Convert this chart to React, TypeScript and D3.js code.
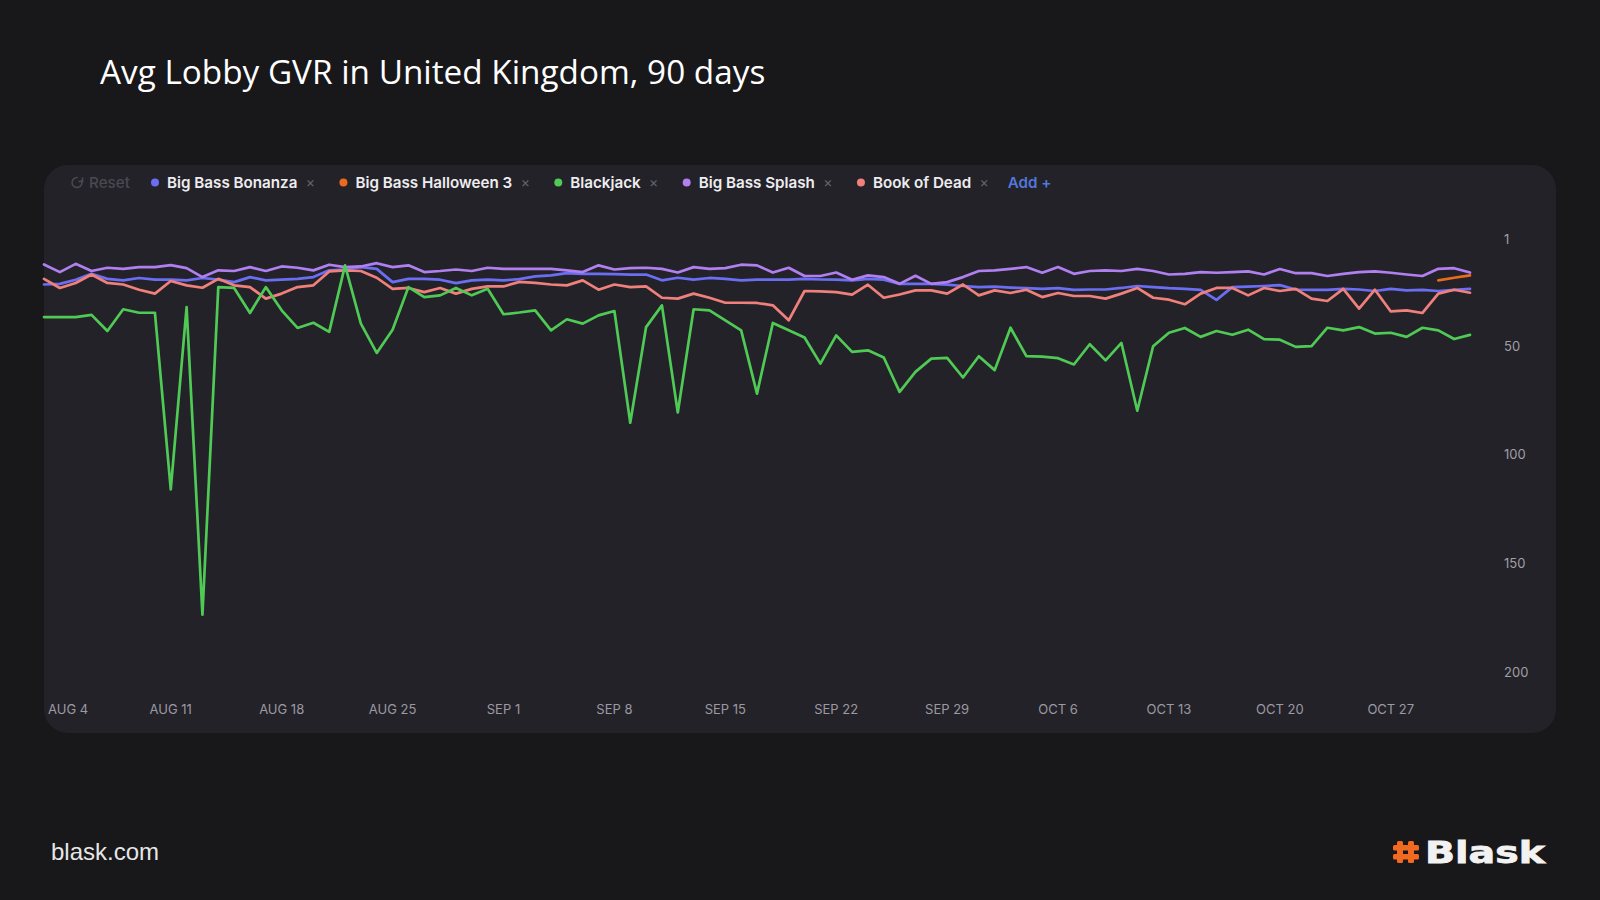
//@ts-nocheck
import React, { useRef, useEffect } from 'react'
import * as d3 from 'd3'

// 91 daily points, Aug 3 .. Nov 1 2024
const firstDay = new Date(2024, 7, 3)
const lastDay = new Date(2024, 10, 1)
const days = d3.timeDay.range(firstDay, d3.timeDay.offset(lastDay, 1))

const bigBassBonanza = [
  21.7, 21.4, 19.5, 16.8, 19.1, 19.8, 18.7, 19.5, 19.5, 19.8,
  18.7, 19.5, 20.6, 18.3, 19.8, 19.5, 19.1, 18.3, 15.2, 14.9,
  13.7, 14.5, 20.6, 19.1, 19.1, 19.5, 21.1, 19.8, 19.5, 19.8,
  19.2, 18.0, 17.5, 16.5, 16.8, 16.8, 16.9, 17.2, 17.1, 19.8,
  18.6, 19.5, 18.7, 19.1, 19.8, 19.5, 19.4, 19.5, 19.1, 19.4,
  19.5, 19.8, 19.1, 19.5, 21.4, 21.4, 21.4, 21.8, 22.4, 22.9,
  22.7, 23.1, 23.4, 23.7, 23.4, 24.2, 24.0, 24.0, 23.3, 22.4,
  22.9, 23.4, 23.7, 24.2, 28.8, 22.9, 22.7, 22.4, 22.0, 24.0,
  24.2, 24.2, 23.7, 24.0, 24.7, 23.7, 24.4, 24.2, 24.7, 24.2, 23.7
]

// only tracked for the last three days
const halloweenDays = [new Date(2024, 9, 30), new Date(2024, 9, 31), new Date(2024, 10, 1)]
const bigBassHalloween3 = [19.8, 18.6, 17.5]

const blackjack = [
  36.7, 36.7, 36.7, 35.7, 43.1, 33.1, 34.7, 34.7, 116, 32.1,
  173.6, 22.9, 23.3, 34.8, 22.9, 33.6, 41.7, 39.3, 43.5, 12.9,
  39.7, 53.2, 42.5, 22.9, 27.5, 26.7, 23.3, 26.7, 23.7, 35.4,
  34.6, 33.6, 42.8, 37.7, 39.7, 35.9, 33.9, 85.3, 41.3, 31.3,
  80.6, 33.1, 33.6, 38.2, 42.8, 71.9, 39.4, 42.8, 46.1, 58.1,
  45.1, 52.7, 52.0, 55.3, 71.1, 61.9, 55.8, 55.5, 64.5, 54.7,
  61.1, 41.6, 54.7, 54.9, 55.6, 58.5, 49.2, 56.6, 48.6, 79.8,
  50.1, 43.9, 41.7, 45.8, 43.1, 44.8, 42.5, 46.8, 47.1, 50.4,
  50.1, 41.6, 42.8, 41.3, 44.3, 43.9, 45.8, 41.6, 42.8, 46.8, 44.9
]

const bigBassSplash = [
  12.5, 16.0, 12.2, 15.5, 14.0, 14.5, 13.7, 13.7, 12.8, 14.2,
  18.3, 15.2, 15.5, 13.7, 15.5, 13.4, 14.0, 15.2, 12.6, 13.7,
  13.4, 11.9, 13.7, 12.9, 16.0, 15.5, 14.8, 15.5, 14.0, 14.5,
  14.5, 14.5, 14.5, 15.2, 16.0, 12.9, 14.8, 14.2, 14.0, 14.5,
  16.2, 13.7, 14.5, 14.2, 12.6, 12.9, 16.2, 14.0, 17.8, 17.8,
  16.2, 19.5, 17.5, 18.3, 21.4, 17.7, 21.4, 20.6, 18.3, 15.5,
  15.2, 14.5, 13.7, 16.3, 13.7, 16.8, 15.5, 15.2, 15.5, 14.5,
  15.5, 17.1, 16.8, 16.0, 16.3, 16.0, 15.7, 17.1, 14.6, 16.5,
  16.5, 17.8, 16.8, 16.0, 15.7, 16.3, 17.1, 17.8, 14.5, 14.2, 16.2
]

const bookOfDead = [
  19.1, 23.3, 21.0, 17.1, 21.0, 21.7, 24.1, 25.9, 20.1, 22.1,
  23.2, 19.1, 22.1, 22.9, 28.2, 25.9, 22.9, 22.1, 15.7, 15.2,
  15.5, 18.6, 23.7, 23.3, 25.2, 23.3, 25.9, 23.7, 22.6, 22.6,
  20.5, 21.0, 21.7, 22.1, 19.8, 24.1, 21.7, 22.9, 22.6, 27.8,
  28.2, 25.9, 27.8, 30.1, 30.1, 30.2, 31.3, 38.2, 24.7, 24.9,
  25.2, 26.4, 21.8, 27.8, 26.3, 24.4, 24.4, 25.9, 21.7, 26.7,
  24.4, 25.6, 24.1, 27.5, 25.6, 27.0, 27.0, 28.2, 25.9, 23.3,
  27.8, 28.7, 30.8, 25.9, 23.3, 23.3, 26.7, 23.3, 24.7, 23.7,
  28.2, 29.3, 23.7, 32.8, 24.1, 34.1, 33.6, 34.8, 25.9, 24.1, 25.5
]

const seriesNames = ['Big Bass Bonanza', 'Big Bass Halloween 3', 'Blackjack', 'Big Bass Splash', 'Book of Dead']
const seriesColors = ['#6b6ef2', '#ec6a1f', '#4fca55', '#b07ff0', '#f0807b']
const rankTicks = [1, 50, 100, 150, 200]

const W = 1600
const H = 900

const App = () => {
  const node = useRef(null)

  useEffect(() => {
    document.body.style.margin = '0'
    document.body.style.background = '#18171a'

    const svg = d3.select(node.current)
    svg.selectAll('*').remove()
    svg.attr('width', W).attr('height', H)

    svg.append('rect').attr('width', W).attr('height', H).attr('fill', '#18171a')

    svg
      .append('text')
      .attr('x', 100)
      .attr('y', 84)
      .attr('fill', '#ffffff')
      .attr('font-family', '"Open Sans", sans-serif')
      .attr('font-size', 33.3)
      .text('Avg Lobby GVR in United Kingdom, 90 days')

    // card
    svg
      .append('rect')
      .attr('x', 44)
      .attr('y', 165)
      .attr('width', 1512)
      .attr('height', 568)
      .attr('rx', 24)
      .attr('fill', '#242229')

    const x = d3.scaleTime().domain([firstDay, lastDay]).range([44, 1470])
    const y = d3.scaleLinear().domain([1, 200]).range([239.5, 672])

    // x axis labels (no domain line, no tick marks)
    const fmt = d3.timeFormat('%b %-d')
    const xg = svg
      .append('g')
      .attr('font-family', 'Inter, sans-serif')
      .attr('font-size', 13)
      .attr('fill', '#9b99a1')
      .attr('text-anchor', 'middle')
    xg.selectAll('text')
      .data(d3.timeWeek.range(firstDay, lastDay))
      .join('text')
      .attr('y', 714)
      .text((d) => fmt(d).toUpperCase())
      .attr('x', function (d) {
        const w = this.getComputedTextLength()
        return Math.max(x(d), 48 + w / 2)
      })

    // y axis labels on the right
    svg
      .append('g')
      .attr('font-family', 'Inter, sans-serif')
      .attr('font-size', 13)
      .attr('fill', '#a09ea6')
      .selectAll('text')
      .data(rankTicks)
      .join('text')
      .attr('x', 1504)
      .attr('y', (d) => y(d))
      .attr('dy', '0.35em')
      .text((d) => d)

    const line = d3
      .line()
      .defined((d) => d.value != null)
      .x((d) => x(d.date))
      .y((d) => y(d.value))

    const toPoints = (values, dates = days) => values.map((v, i) => ({ date: dates[i], value: v }))

    const drawOrder = [
      { data: toPoints(bigBassBonanza), color: seriesColors[0] },
      { data: toPoints(bigBassSplash), color: seriesColors[3] },
      { data: toPoints(bookOfDead), color: seriesColors[4] },
      { data: toPoints(blackjack), color: seriesColors[2] },
      { data: toPoints(bigBassHalloween3, halloweenDays), color: seriesColors[1] }
    ]

    svg
      .append('g')
      .selectAll('path')
      .data(drawOrder)
      .join('path')
      .attr('d', (d) => line(d.data))
      .attr('fill', 'none')
      .attr('stroke', (d) => d.color)
      .attr('stroke-width', 2.7)
      .attr('stroke-linejoin', 'round')
      .attr('stroke-linecap', 'round')

    // legend row
    const lg = svg
      .append('g')
      .attr('font-family', 'Inter, sans-serif')
      .attr('font-size', 15.2)
      .attr('font-weight', 600)
    const ly = 182.5

    const resetArc = d3.path()
    resetArc.arc(77, ly, 5, -Math.PI * 0.15, Math.PI * 1.55)
    lg.append('path')
      .attr('d', resetArc.toString())
      .attr('fill', 'none')
      .attr('stroke', '#4a4852')
      .attr('stroke-width', 1.6)
    lg.append('path')
      .attr('d', `M${77 + 5.5},${ly - 5} l0,4 l-4,0`)
      .attr('fill', 'none')
      .attr('stroke', '#4a4852')
      .attr('stroke-width', 1.6)
    lg.append('text')
      .attr('x', 89)
      .attr('y', ly + 5.5)
      .attr('fill', '#4a4852')
      .attr('font-weight', 500)
      .text('Reset')

    let cx = 155
    seriesNames.forEach((name, i) => {
      lg.append('circle').attr('cx', cx).attr('cy', ly).attr('r', 4).attr('fill', seriesColors[i])
      const t = lg
        .append('text')
        .attr('x', cx + 12)
        .attr('y', ly + 5.5)
        .attr('fill', '#ededf0')
        .text(name)
      const w = t.node().getComputedTextLength()
      lg.append('text')
        .attr('x', cx + 12 + w + 13)
        .attr('y', ly + 4.5)
        .attr('text-anchor', 'middle')
        .attr('fill', '#66646c')
        .attr('font-size', 14)
        .attr('font-weight', 400)
        .text('×')
      cx = cx + 12 + w + 13 + 33
    })
    lg.append('text')
      .attr('x', cx - 33 + 23.5)
      .attr('y', ly + 5.5)
      .attr('fill', '#5277dc')
      .text('Add +')

    // footer
    svg
      .append('text')
      .attr('x', 51)
      .attr('y', 860)
      .attr('fill', '#e6e6e6')
      .attr('font-family', '"Liberation Sans", Arial, sans-serif')
      .attr('font-size', 24)
      .text('blask.com')

    // hash mark of the logo
    const hash = svg.append('g').attr('fill', '#f26a21')
    hash.append('rect').attr('x', 1397).attr('y', 841).attr('width', 6).attr('height', 22).attr('rx', 1.5)
    hash.append('rect').attr('x', 1408).attr('y', 841).attr('width', 6).attr('height', 22).attr('rx', 1.5)
    hash.append('rect').attr('x', 1393).attr('y', 845).attr('width', 26).attr('height', 5.5).attr('rx', 1.5)
    hash.append('rect').attr('x', 1393).attr('y', 854).attr('width', 26).attr('height', 5.5).attr('rx', 1.5)

    svg
      .append('text')
      .attr('x', 1425)
      .attr('y', 863)
      .attr('fill', '#f2f2f2')
      .attr('stroke', '#f2f2f2')
      .attr('stroke-width', 0.8)
      .attr('font-family', '"DejaVu Sans", sans-serif')
      .attr('font-weight', 700)
      .attr('font-size', 30)
      .attr('textLength', 120)
      .attr('lengthAdjust', 'spacingAndGlyphs')
      .text('Blask')
  }, [node])

  return <svg ref={node} style={{ display: 'block', position: 'absolute', left: 0, top: 0 }}></svg>
}

export default App
